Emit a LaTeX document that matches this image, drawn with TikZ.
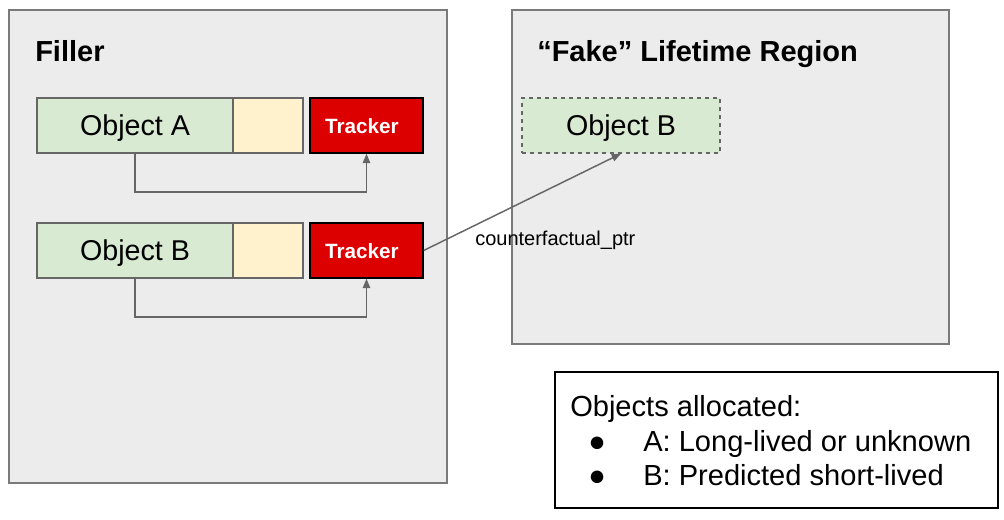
\documentclass[tikz,border=0pt]{standalone}
\usepackage{fontspec}
\setmainfont{Liberation Sans}
\usetikzlibrary{arrows.meta}
\definecolor{regionbg}{HTML}{ECECEC}
\definecolor{regionline}{HTML}{7A7A7A}
\definecolor{objgreen}{HTML}{D9EAD3}
\definecolor{objyellow}{HTML}{FFF2CC}
\definecolor{trackred}{HTML}{DD0000}
\definecolor{lineg}{HTML}{666666}
\tikzset{
  region/.style={draw=regionline, fill=regionbg, line width=1.5pt},
  objbox/.style={draw=lineg, fill=objgreen, line width=1pt, inner sep=0pt, minimum height=41.25pt, text height=15.4pt, text depth=0pt, font=\fontsize{21.5}{24}\selectfont},
  padbox/.style={draw=lineg, fill=objyellow, line width=1pt, inner sep=0pt, minimum width=52.5pt, minimum height=41.25pt},
  trackbox/.style={draw=black, fill=trackred, line width=1pt, inner sep=0pt, minimum width=84.75pt, minimum height=41.25pt, text height=11.5pt, text depth=0pt, text=white, font=\fontsize{15.5}{18}\selectfont\bfseries},
  titletext/.style={anchor=base west, inner sep=0pt, font=\fontsize{21.75}{25}\selectfont\bfseries},
  legtext/.style={anchor=base west, inner sep=0pt, font=\fontsize{21.8}{24}\selectfont},
  conn/.style={draw=lineg, line width=1.1pt, -{Triangle[length=7pt,width=5.5pt]}}
}
\begin{document}
\begin{tikzpicture}[x=0.75pt,y=-0.75pt]
\useasboundingbox (0,0) rectangle (1004,519);
% regions
\draw[region] (9,10) rectangle (447,483);
\draw[region] (512,10) rectangle (949,344);
\node[titletext] (fillertitle) at (35,61) {Filler};
\node[titletext] (faketitle) at (537,61) {“Fake” Lifetime Region};
% row A
\node[objbox, minimum width=147pt] (objA) at (135,125.5) {Object A};
\node[padbox] (padA) at (268,125.5) {};
\node[trackbox] (trackA) at (366.5,125.5) {\hspace*{-7pt}Tracker};
% row B
\node[objbox, minimum width=147pt] (objB) at (135,250.5) {Object B};
\node[padbox] (padB) at (268,250.5) {};
\node[trackbox] (trackB) at (366.5,250.5) {\hspace*{-7pt}Tracker};
% fake object
\node[objbox, dashed, minimum width=148.5pt] (fakeB) at (621,125.5) {Object B};
% connectors
\draw[conn] (objA.south) |- (250,192) -| (trackA.south);
\draw[conn] (objB.south) |- (250,317) -| (trackB.south);
\draw[conn] (trackB.east) -- (fakeB.south);
\node[anchor=base west, inner sep=0pt, font=\fontsize{15}{18}\selectfont] (ptrlabel) at (475,245) {counterfactual\_ptr};
% legend
\draw[draw=black, line width=1pt] (555,372) rectangle (998,508);
\node[legtext] (legtitle) at (570,416) {Objects allocated:};
\node[legtext] (bulA) at (588,451) {●};
\node[legtext] (legA) at (643,451) {A: Long-lived or unknown};
\node[legtext] (bulB) at (588,485) {●};
\node[legtext] (legB) at (643,485) {B: Predicted short-lived};
\end{tikzpicture}
\end{document}
